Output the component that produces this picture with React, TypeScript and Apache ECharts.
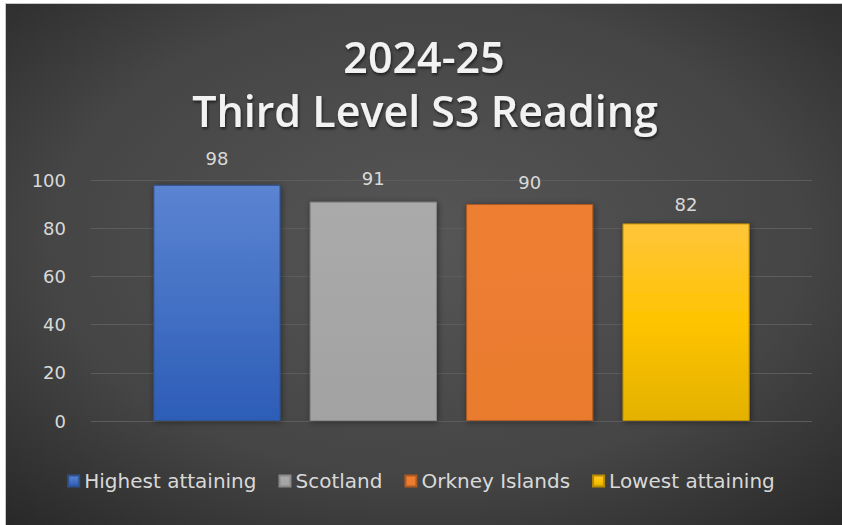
import React, { useEffect, useRef } from "react";
import * as echarts from "echarts";

const titleLines = ["2024-25", "Third Level S3 Reading"];
const categories = [""];
const seriesNames = ["Highest attaining", "Scotland", "Orkney Islands", "Lowest attaining"];
const seriesValues = [98, 91, 90, 82];
const yTicks = { min: 0, max: 100, interval: 20 };

const grad = (top: string, bottom: string) =>
  new echarts.graphic.LinearGradient(0, 0, 0, 1, [
    { offset: 0, color: top },
    { offset: 1, color: bottom },
  ]);

const barStyles = [
  { color: grad("#5b84d2", "#2d5db7"), borderColor: "#2f528f", labelDistance: 17 },
  { color: grad("#aaaaaa", "#a2a2a2"), borderColor: "#8a8a8a", labelDistance: 14 },
  { color: grad("#ee7f33", "#e97a2e"), borderColor: "#ae5a21", labelDistance: 13 },
  {
    color: new echarts.graphic.LinearGradient(0, 0, 0, 1, [
      { offset: 0, color: "#ffc53a" },
      { offset: 0.5, color: "#ffc400" },
      { offset: 1, color: "#e3b100" },
    ]),
    borderColor: "#bc8c00",
    labelDistance: 10,
  },
];

export default function App() {
  const ref = useRef<HTMLDivElement>(null);
  useEffect(() => {
    if (!ref.current) return;
    const chart = echarts.init(ref.current, null, { renderer: "svg" });
    const font = "'DejaVu Sans', 'Open Sans', sans-serif";
    const titleFont = "'Open Sans', 'Noto Sans', sans-serif";
    const titleStyle = {
      fill: "#f2f2f2",
      fontFamily: titleFont,
      fontSize: 43,
      fontWeight: 600,
      textAlign: "center",
      textVerticalAlign: "middle",
      textShadowColor: "rgba(0,0,0,0.6)",
      textShadowBlur: 3,
      textShadowOffsetX: 1,
      textShadowOffsetY: 2,
    };
    chart.setOption({
      animation: false,
      backgroundColor: "#ffffff",
      textStyle: { fontFamily: font },
      graphic: [
        {
          type: "rect",
          z: -10,
          silent: true,
          shape: { x: 5.5, y: 3.5, width: 840, height: 525 },
          style: {
            fill: new echarts.graphic.RadialGradient(0.5, 0.45, 0.75, [
              { offset: 0, color: "#565656" },
              { offset: 0.6, color: "#454545" },
              { offset: 1, color: "#272727" },
            ]),
            stroke: "#c8c8c8",
            lineWidth: 1,
          },
        },
        {
          type: "text",
          x: 424,
          y: 56,
          z: 10,
          silent: true,
          style: { ...titleStyle, text: titleLines[0] },
        },
        {
          type: "text",
          x: 425,
          y: 110,
          z: 10,
          silent: true,
          style: { ...titleStyle, text: titleLines[1] },
        },
      ],
      legend: {
        data: seriesNames,
        bottom: 29,
        left: "center",
        icon: "rect",
        itemWidth: 11,
        itemHeight: 11,
        itemGap: 22,
        textStyle: { color: "#d9d9d9", fontSize: 20, fontFamily: font },
      },
      grid: { left: 91, right: 30, top: 180, bottom: 104, containLabel: false },
      xAxis: {
        type: "category",
        data: categories,
        axisLine: { show: false },
        axisTick: { show: false },
        axisLabel: { show: false },
      },
      yAxis: {
        type: "value",
        min: yTicks.min,
        max: yTicks.max,
        interval: yTicks.interval,
        axisLine: { show: false },
        axisTick: { show: false },
        axisLabel: { color: "#d9d9d9", fontSize: 18, margin: 25, fontFamily: font },
        splitLine: { lineStyle: { color: "#5c5c5c", width: 1 } },
      },
      series: seriesNames.map((name, i) => ({
        name,
        type: "bar",
        data: [seriesValues[i]],
        barCategoryGap: "17.3%",
        barGap: "23%",
        itemStyle: {
          color: barStyles[i].color,
          borderColor: barStyles[i].borderColor,
          borderWidth: 1,
          shadowColor: "rgba(0,0,0,0.45)",
          shadowBlur: 6,
          shadowOffsetX: 1,
          shadowOffsetY: 1,
        },
        label: {
          show: true,
          position: "top",
          distance: barStyles[i].labelDistance,
          color: "#d9d9d9",
          fontSize: 18,
          fontFamily: font,
        },
      })),
    });
    return () => chart.dispose();
  }, []);
  return (
    <div
      ref={ref}
      style={{ position: "fixed", left: 0, top: 0, width: 842, height: 525 }}
    />
  );
}
